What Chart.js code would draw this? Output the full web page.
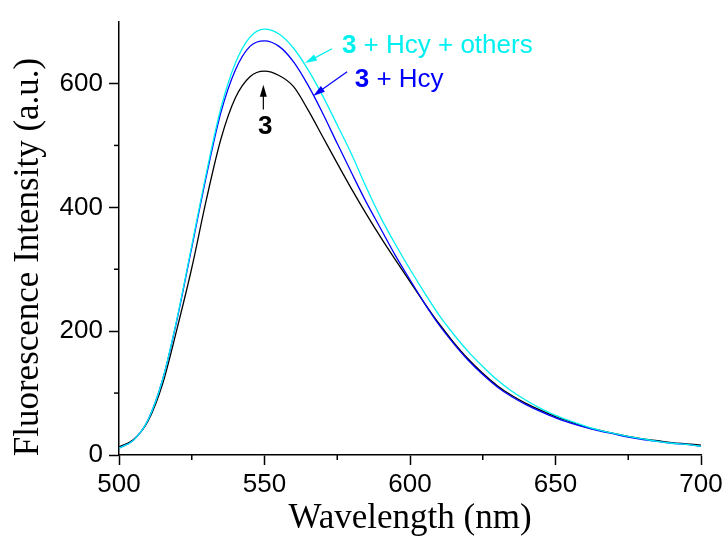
<!DOCTYPE html>
<html>
<head>
<meta charset="utf-8">
<script src="https://cdn.jsdelivr.net/npm/chart.js@4"></script>
<style>
  html, body { margin: 0; padding: 0; background: #fff; }
  #wrap { width: 728px; height: 540px; }
</style>
</head>
<body>
<div id="wrap"><canvas id="graph" width="728" height="540"></canvas></div>
<script>
// wavelength (nm)
var wavelengths = [500,505,510,515,520,525,530,535,540,545,550,555,560,565,570,575,580,585,590,595,600,
                   605,610,615,620,625,630,635,640,645,650,655,660,665,670,675,680,685,690,695,700];
// 3
var probe = [13,25,55,115,205,302,412,510,577,611,620,613,595,557,514,471,429,389,351,315,280,
             245,212,182,155,132,112,96,83,72,62,54,46,40,35,30,26,23,20,18,16];
// 3 + Hcy
var probeHcy = [11,24,57,122,220,335,450,553,622,660,669,660,635,597,552,503,455,408,365,322,283,
                245,210,180,153,130,110,94,81,70,60,52,45,39,34,29,25,22,19,17,14];
// 3 + Hcy + others
var probeOthers = [11,24,57,122,222,338,455,560,633,675,688,680,657,622,580,533,485,432,383,340,300,
                   262,226,195,167,143,121,103,88,75,64,55,47,40,35,30,26,22,19,17,14];

var xTicks = [500,550,600,650,700];
var xMinor = [525,575,625,675];
var yTicks = [0,200,400,600];
var yMinor = [100,300,500];

function pts(arr){
  return wavelengths.map(function(w,i){ return {x:w, y:arr[i]}; });
}

// arrows: [tail, tip] in data units
var arrows = [
  {color:'#00f0f0', from:[573.2,656], to:[563.9,633]},
  {color:'#0000ff', from:[578.4,619], to:[566.7,580]},
  {color:'#000000', from:[549.6,558], to:[549.6,598]}
];
// annotation labels: bold "3" followed by plain rest, anchored in data units
var labels = [
  {color:'#00f0f0', rest:' + Hcy + others', at:[576.6,650]},
  {color:'#0000ff', rest:' + Hcy', at:[581,595]},
  {color:'#000000', rest:'', at:[547.8,519]}
];

var extras = {
  id:'extras',
  afterDraw:function(chart){
    var ctx = chart.ctx, xs = chart.scales.x, ys = chart.scales.y;
    ctx.save();
    // minor ticks
    ctx.strokeStyle = '#000';
    ctx.lineWidth = 1.5;
    xMinor.forEach(function(v){
      var px = xs.getPixelForValue(v);
      ctx.beginPath(); ctx.moveTo(px, ys.bottom); ctx.lineTo(px, ys.bottom + 5); ctx.stroke();
    });
    yMinor.forEach(function(v){
      var py = ys.getPixelForValue(v);
      ctx.beginPath(); ctx.moveTo(xs.left, py); ctx.lineTo(xs.left - 5, py); ctx.stroke();
    });
    // arrows
    arrows.forEach(function(a){
      var x1 = xs.getPixelForValue(a.from[0]), y1 = ys.getPixelForValue(a.from[1]);
      var x2 = xs.getPixelForValue(a.to[0]), y2 = ys.getPixelForValue(a.to[1]);
      var ang = Math.atan2(y2-y1, x2-x1);
      ctx.strokeStyle = a.color; ctx.fillStyle = a.color; ctx.lineWidth = 1.2;
      ctx.beginPath(); ctx.moveTo(x1,y1); ctx.lineTo(x2 - 8*Math.cos(ang), y2 - 8*Math.sin(ang)); ctx.stroke();
      ctx.beginPath();
      ctx.moveTo(x2,y2);
      ctx.lineTo(x2 - 12*Math.cos(ang) + 3.5*Math.sin(ang), y2 - 12*Math.sin(ang) - 3.5*Math.cos(ang));
      ctx.lineTo(x2 - 12*Math.cos(ang) - 3.5*Math.sin(ang), y2 - 12*Math.sin(ang) + 3.5*Math.cos(ang));
      ctx.closePath(); ctx.fill();
    });
    // labels
    ctx.textBaseline = 'alphabetic';
    ctx.textAlign = 'left';
    labels.forEach(function(l){
      var px = xs.getPixelForValue(l.at[0]), py = ys.getPixelForValue(l.at[1]);
      ctx.fillStyle = l.color;
      ctx.font = 'bold 26px "Liberation Sans", Arial, sans-serif';
      ctx.fillText('3', px, py);
      var w = ctx.measureText('3').width;
      ctx.font = '26px "Liberation Sans", Arial, sans-serif';
      ctx.fillText(l.rest, px + w, py);
    });
    // axis titles
    ctx.fillStyle = '#000';
    ctx.font = '35px "Liberation Serif", "Times New Roman", serif';
    ctx.textAlign = 'center';
    ctx.textBaseline = 'middle';
    ctx.fillText('Wavelength (nm)', (xs.left + xs.right)/2, 519);
    ctx.translate(29, 257);
    ctx.rotate(-Math.PI/2);
    ctx.fillText('Fluorescence Intensity (a.u.)', 0, 0);
    ctx.restore();
  }
};

var lineStyle = {pointRadius:0, borderWidth:1.3, fill:false, cubicInterpolationMode:'monotone'};

new Chart(document.getElementById('graph'), {
  type:'line',
  data:{
    datasets:[
      Object.assign({label:'3 + Hcy + others', data:pts(probeOthers), borderColor:'#00f0f0'}, lineStyle),
      Object.assign({label:'3 + Hcy', data:pts(probeHcy), borderColor:'#0000ff'}, lineStyle),
      Object.assign({label:'3', data:pts(probe), borderColor:'#000000'}, lineStyle)
    ]
  },
  options:{
    responsive:false,
    animation:false,
    layout:{autoPadding:false, padding:{top:14, right:27, left:0, bottom:0}},
    plugins:{legend:{display:false}, tooltip:{enabled:false}},
    scales:{
      x:{
        type:'linear', min:500, max:700,
        afterBuildTicks:function(s){ s.ticks = xTicks.map(function(v){ return {value:v}; }); },
        afterFit:function(s){ s.height = 85; },
        border:{display:true, color:'#000', width:1.5},
        grid:{display:true, drawOnChartArea:false, tickLength:10, color:'#000', tickWidth:1.5},
        ticks:{color:'#000', padding:4, maxRotation:0, font:{family:'"Liberation Sans", Arial, sans-serif', size:26}}
      },
      y:{
        type:'linear', min:0, max:700,
        afterBuildTicks:function(s){ s.ticks = yTicks.map(function(v){ return {value:v}; }); },
        afterFit:function(s){ s.width = 119; },
        border:{display:true, color:'#000', width:1.5},
        grid:{display:true, drawOnChartArea:false, tickLength:10, color:'#000', tickWidth:1.5},
        ticks:{color:'#000', padding:6, font:{family:'"Liberation Sans", Arial, sans-serif', size:26}}
      }
    }
  },
  plugins:[extras]
});
</script>
</body>
</html>
